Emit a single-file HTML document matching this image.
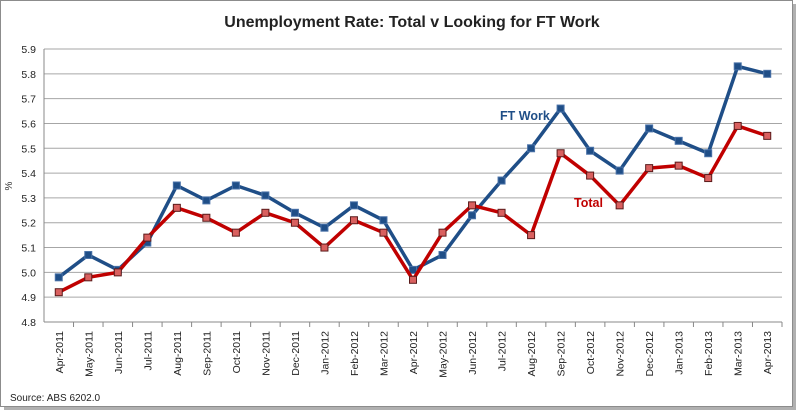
<!DOCTYPE html>
<html><head><meta charset="utf-8"><style>
body{margin:0;background:#fff;width:800px;height:412px;overflow:hidden}
svg{display:block;font-family:"Liberation Sans",sans-serif}
</style></head><body>
<svg id="chart" width="800" height="412">
<rect x="4" y="4" width="792" height="406" fill="#b0b0b0"/>
<rect x="0.5" y="0.5" width="792" height="406" fill="#fff" stroke="#8c8c8c"/>
<text x="412" y="27" text-anchor="middle" font-size="16" font-weight="bold" fill="#222">Unemployment Rate: Total v Looking for FT Work</text>
<text x="12" y="186" font-size="10" fill="#333" transform="rotate(-90 12 186)" text-anchor="middle">%</text>
<text x="10" y="401" font-size="10" fill="#222">Source: ABS 6202.0</text>
<g id="grid"></g><g id="axes"></g><g id="series"></g>
<text x="500" y="120" font-size="12.5" font-weight="bold" fill="#1f4e87">FT Work</text>
<text x="574" y="207" font-size="12.5" font-weight="bold" fill="#c00000">Total</text>
</svg>
<script>
const categories=["Apr-2011","May-2011","Jun-2011","Jul-2011","Aug-2011","Sep-2011","Oct-2011","Nov-2011","Dec-2011","Jan-2012","Feb-2012","Mar-2012","Apr-2012","May-2012","Jun-2012","Jul-2012","Aug-2012","Sep-2012","Oct-2012","Nov-2012","Dec-2012","Jan-2013","Feb-2013","Mar-2013","Apr-2013"];
const ftWork=[4.98,5.07,5.01,5.12,5.35,5.29,5.35,5.31,5.24,5.18,5.27,5.21,5.01,5.07,5.23,5.37,5.50,5.66,5.49,5.41,5.58,5.53,5.48,5.83,5.80];
const total=[4.92,4.98,5.00,5.14,5.26,5.22,5.16,5.24,5.20,5.10,5.21,5.16,4.97,5.16,5.27,5.24,5.15,5.48,5.39,5.27,5.42,5.43,5.38,5.59,5.55];
const yTicks=[4.8,4.9,5.0,5.1,5.2,5.3,5.4,5.5,5.6,5.7,5.8,5.9];
const L=44,R=782,T=49,B=322,yMin=4.8,yMax=5.9;
const NS="http://www.w3.org/2000/svg";
const bw=(R-L)/categories.length;
function x(i){return L+bw*(i+0.5);}
function y(v){return B-(v-yMin)/(yMax-yMin)*(B-T);}
function mk(t,a,p){const e=document.createElementNS(NS,t);for(const k in a)e.setAttribute(k,a[k]);p.appendChild(e);return e;}
const grid=document.getElementById('grid'),axes=document.getElementById('axes'),ser=document.getElementById('series');
yTicks.forEach(v=>{
 const g=mk('line',{x1:L,x2:R,y1:y(v),y2:y(v),stroke:'#a6a6a6','stroke-width':1},grid);
 
 
 const t=mk('text',{x:L-8,y:y(v)+4,'text-anchor':'end','font-size':10.5,fill:'#222'},axes);
 t.textContent=v.toFixed(1);
 
 
});
const ya=mk('line',{x1:L,x2:L,y1:T,y2:B,stroke:'#888'},axes);


const xa=mk('line',{x1:L,x2:R,y1:B,y2:B,stroke:'#888'},axes);


categories.forEach((c,i)=>{
 const tk=mk('line',{x1:L+bw*(i+1),x2:L+bw*(i+1),y1:B,y2:B+5,stroke:'#888'},axes);
 
 
 const xx=x(i)+4,yy=331;
 const t=mk('text',{x:xx,y:yy,'text-anchor':'end','font-size':10.5,fill:'#222',transform:`rotate(-90 ${xx} ${yy})`},axes);
 t.textContent=c;
 
 
});
function drawSeries(vals,color,mfill,mstroke,name){
 const pl=mk('polyline',{points:vals.map((v,i)=>x(i)+','+y(v)).join(' '),fill:'none',stroke:color,'stroke-width':3.5,'stroke-linejoin':'round'},ser);
 
 
 vals.forEach((v,i)=>{
  const m=mk('rect',{x:x(i)-3.5,y:y(v)-3.5,width:7,height:7,fill:mfill,stroke:mstroke,'stroke-width':1},ser);
  
  
 });
}
drawSeries(ftWork,'#1f4e87','#1f4e87','#4a72a8','ft-work');
drawSeries(total,'#c00000','#d9605f','#5a1a1a','total');
</script>
</body></html>
